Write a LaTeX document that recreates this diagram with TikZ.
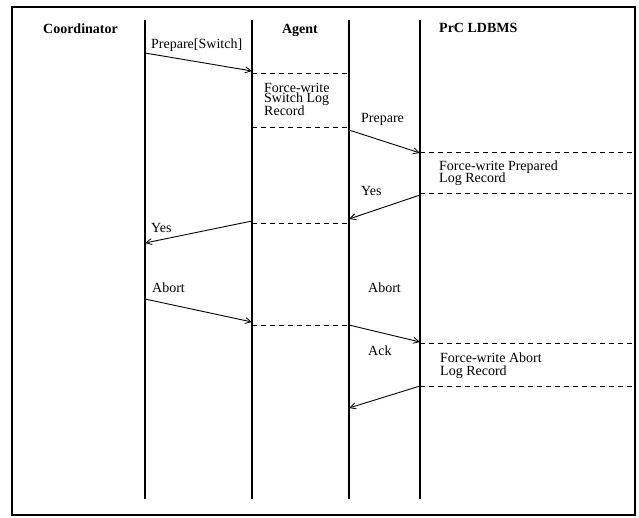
\documentclass[tikz,border=0pt]{standalone}
\usepackage{fontspec}
\setmainfont{Liberation Serif}
\usetikzlibrary{arrows.meta}
\begin{document}
\begin{tikzpicture}[x=1pt,y=-1pt,
  lifeline/.style={line width=2.6pt},
  msg/.style={line width=0.9pt,-{Straight Barb[length=6pt,width=6pt,line width=0.8pt]}},
  logline/.style={line width=0.9pt,dash pattern=on 5pt off 4pt},
  head/.style={font=\fontsize{14}{14}\selectfont\bfseries,inner sep=0pt},
  lbl/.style={font=\fontsize{14}{14}\selectfont,inner sep=0pt,anchor=base west}]
\useasboundingbox (0,0) rectangle (639,517);
\draw[line width=1.8pt] (12,7) rectangle (635,515);
% lifelines
\foreach \n/\x in {c/145,a/252,p/349,l/420}{
  \coordinate (\n top) at (\x,20);
  \coordinate (\n bot) at (\x,499);
  \draw[lifeline] (\n top) -- (\n bot);
}
\coordinate (fr) at (635,0);
% headers
\node[head,anchor=base] (hc) at (80.5,33) {Coordinator};
\node[head,anchor=base] (ha) at (300,33) {Agent};
\node[head,anchor=base west] (hl) at (439,32) {PrC LDBMS};
% message points
\coordinate (m1s) at (145,53);  \coordinate (m1e) at (252,71);
\coordinate (m2s) at (349,130); \coordinate (m2e) at (420,153);
\coordinate (m3s) at (420,195); \coordinate (m3e) at (349,219);
\coordinate (m4s) at (252,221); \coordinate (m4e) at (145,243);
\coordinate (m5s) at (145,299); \coordinate (m5e) at (252,322);
\coordinate (m6s) at (349,325); \coordinate (m6e) at (420,342);
\coordinate (m7s) at (420,386); \coordinate (m7e) at (349,408);
\draw[msg] (m1s) -- (m1e);
\draw[msg] (m2s) -- (m2e);
\draw[msg] (m3s) -- (m3e);
\draw[msg] (m4s) -- (m4e);
\draw[msg] (m5s) -- (m5e);
\draw[msg] (m6s) -- (m6e);
\draw[msg] (m7s) -- (m7e);
% log lines
\foreach \y in {73,127,223,325}{
  \draw[logline] (atop |- 0,\y) -- (ptop |- 0,\y);
}
\foreach \y in {152,193,343,386}{
  \draw[logline] (ltop |- 0,\y) -- (fr |- 0,\y);
}
% labels
\node[lbl] (t1) at (151,48) {Prepare[Switch]};
\node[lbl] (t2a) at (264,92) {Force-write};
\node[lbl] (t2b) at (264,102) {Switch Log};
\node[lbl] (t2c) at (264,115) {Record};
\node[lbl] (t3) at (361,122) {Prepare};
\node[lbl] (t4a) at (439,170) {Force-write Prepared};
\node[lbl] (t4b) at (439,182) {Log Record};
\node[lbl] (t5) at (361,195) {Yes};
\node[lbl] (t6) at (151,232) {Yes};
\node[lbl] (t7) at (152,292) {Abort};
\node[lbl] (t8) at (368,292) {Abort};
\node[lbl] (t9) at (368,355) {Ack};
\node[lbl] (t10a) at (440,362) {Force-write Abort};
\node[lbl] (t10b) at (440,375) {Log Record};
\end{tikzpicture}
\end{document}
